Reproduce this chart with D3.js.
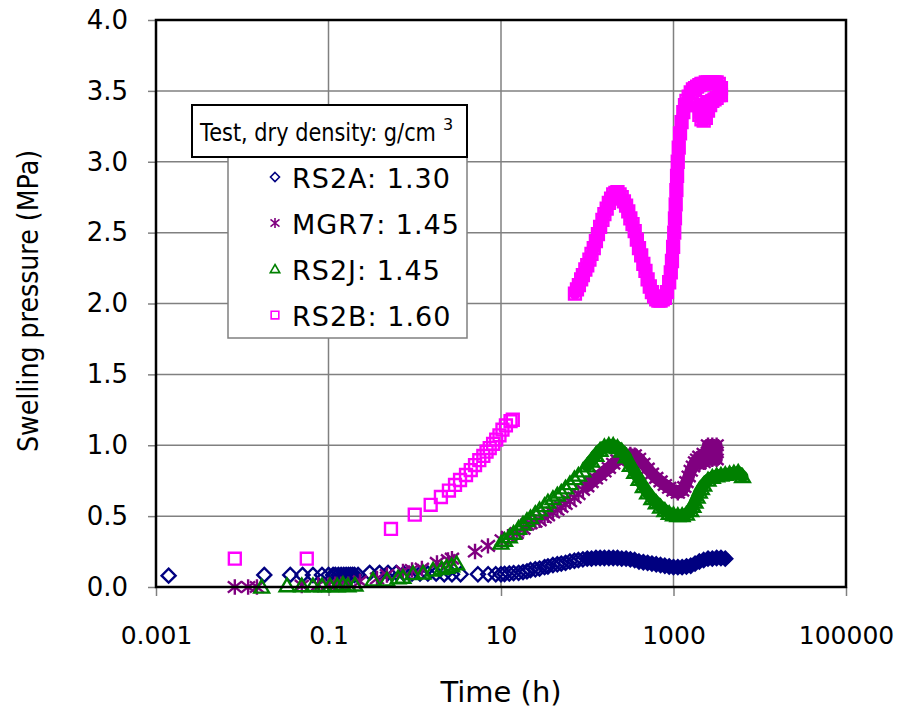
<!DOCTYPE html>
<html>
<head>
<meta charset="utf-8">
<script src="https://d3js.org/d3.v7.min.js"></script>
<style>
  body { margin: 0; background: #fff; }
  text { font-family: "DejaVu Sans", sans-serif; fill: #000; }
</style>
</head>
<body>
<svg id="chart" width="902" height="713"></svg>
<script>
// axis ticks
const xTicks = [0.001, 0.1, 10, 1000, 100000];
const xTickLabels = ["0.001", "0.1", "10", "1000", "100000"];
const yTicks = [0, 0.5, 1, 1.5, 2, 2.5, 3, 3.5, 4];

// series: [time (h), swelling pressure (MPa)]
const seriesNames = ["RS2A: 1.30", "MGR7: 1.45", "RS2J: 1.45", "RS2B: 1.60"];

const rs2a = [
  [0.0014,0.08],[0.018,0.085],[0.036,0.085],[0.05,0.085],[0.066,0.085],[0.084,0.085],
  [0.1,0.085],[0.113,0.085],[0.12,0.085],[0.13,0.085],[0.14,0.085],[0.15,0.085],
  [0.16,0.085],[0.17,0.085],[0.18,0.085],[0.19,0.085],[0.2,0.085],[0.22,0.085],
  [0.3,0.1],[0.39,0.1],[0.49,0.1],[0.61,0.1],[0.75,0.095],[0.93,0.095],[1.15,0.095],
  [1.42,0.095],[1.77,0.095],[2.2,0.09],[2.7,0.09],[3.4,0.09],[5.4,0.09],[7.1,0.09],[8.7,0.09],
  [10,0.09],[11,0.092],[12.5,0.095],[14,0.098],[16,0.1],[18,0.105],[20,0.11],[22,0.12],
  [25,0.125],[28,0.13],[32,0.14],[35,0.145],[40,0.155],[45,0.16],[50,0.165],[56,0.17],
  [63,0.18],[71,0.185],[79,0.19],[89,0.195],[100,0.2],[112,0.2],[126,0.205],[141,0.205],
  [158,0.205],[178,0.205],[200,0.205],[224,0.205],[251,0.2],[282,0.2],[316,0.195],
  [355,0.19],[398,0.18],[447,0.175],[501,0.17],[562,0.165],[631,0.16],[708,0.155],
  [794,0.15],[891,0.145],[1000,0.14],[1122,0.14],[1259,0.14],[1413,0.145],[1585,0.15],
  [1778,0.165],[1995,0.18],[2239,0.19],[2512,0.2],[2818,0.2],[3162,0.205],[3548,0.205],[3981,0.2]
];

const mgr7 = [
  [0.0082,0],[0.0117,0],[0.0148,0],[0.049,0.01],[0.076,0.015],[0.1,0.015],[0.12,0.02],
  [0.14,0.02],[0.17,0.02],[0.232,0.04],[0.365,0.06],[0.476,0.085],[0.73,0.11],[0.93,0.12],
  [1.21,0.13],[1.81,0.17],[2.43,0.19],[2.7,0.2],[5.0,0.25],[7.06,0.29],[10.2,0.33],
  [12.05,0.355],[15.2,0.38],[18.2,0.41],
  [20,0.44],[22,0.45],[25,0.46],[28,0.47],[32,0.49],[35,0.505],[40,0.525],[45,0.545],
  [50,0.565],[56,0.585],[63,0.605],[71,0.63],[79,0.655],[89,0.685],[100,0.71],[112,0.74],
  [126,0.765],[141,0.79],[158,0.815],[178,0.84],[200,0.87],[224,0.895],[251,0.915],
  [282,0.93],[316,0.935],[355,0.93],[398,0.905],[447,0.87],[501,0.835],[562,0.8],
  [631,0.77],[708,0.745],[794,0.72],[891,0.7],[1000,0.68],[1122,0.665],[1259,0.68],
  [1335,0.705],[1413,0.74],[1500,0.78],[1585,0.82],[1680,0.85],[1778,0.88],[1880,0.9],
  [1995,0.92],[2239,0.94],[2512,0.95],[2818,0.95],[3162,0.95],
  [1995,0.87],[2239,0.88],[2512,0.9],[2818,0.9],[3162,0.9],[2512,1.0],[2818,1.0],[3162,1.0]
];

const rs2j = [
  [0.0168,0],[0.033,0.01],[0.049,0.01],[0.066,0.01],[0.084,0.01],[0.104,0.01],[0.126,0.01],
  [0.147,0.02],[0.168,0.01],[0.203,0.015],[0.328,0.05],[0.476,0.05],[0.64,0.065],[0.73,0.07],
  [0.955,0.095],[1.25,0.1],[1.63,0.12],[2.05,0.13],[2.35,0.14],[2.68,0.15],[3.06,0.165],
  [10,0.31],[11,0.33],[12.5,0.355],[14,0.38],[16,0.415],[18,0.445],[20,0.47],[22,0.49],
  [25,0.52],[28,0.545],[32,0.575],[35,0.6],[40,0.625],[45,0.65],[50,0.67],[56,0.7],
  [63,0.73],[71,0.765],[79,0.79],[89,0.82],[100,0.855],[112,0.89],[126,0.93],[141,0.965],
  [158,0.99],[178,1.0],[200,1.0],[224,0.985],[251,0.96],[282,0.92],[316,0.86],[355,0.81],
  [398,0.76],[447,0.71],[501,0.665],[562,0.625],[631,0.595],[708,0.565],[794,0.54],
  [891,0.52],[1000,0.51],[1122,0.505],[1259,0.505],[1413,0.515],[1585,0.54],[1680,0.57],
  [1778,0.6],[1880,0.635],[1995,0.67],[2110,0.695],[2239,0.72],[2512,0.755],[2818,0.775],
  [3162,0.785],[3548,0.79],[3981,0.795],[4467,0.8],[5012,0.805],[5623,0.81],[6310,0.78]
];

const rs2b = [
  [0.0082,0.2],[0.056,0.2],[0.53,0.41],[1.0,0.51],[1.53,0.58],[2.01,0.635],[2.49,0.68],
  [2.93,0.72],[3.35,0.755],[3.93,0.79],[4.46,0.825],[5.0,0.86],[5.6,0.895],[6.24,0.925],
  [6.8,0.955],[7.4,0.98],[8.1,1.01],[8.8,1.04],[9.6,1.07],[10.4,1.11],[11.4,1.14],
  [12.9,1.17],[13.7,1.18],
  [72,2.07],[76,2.1],[80,2.13],[85,2.17],[89,2.2],[95,2.24],[100,2.27],[106,2.31],
  [112,2.35],[119,2.39],[126,2.44],[133,2.49],[141,2.54],[150,2.59],[158,2.63],[168,2.67],
  [178,2.71],[189,2.74],[200,2.77],[212,2.78],[224,2.785],[237,2.77],[251,2.75],[266,2.72],
  [282,2.69],[299,2.65],[316,2.6],[335,2.56],[355,2.51],[376,2.45],[398,2.39],[422,2.34],
  [447,2.28],[473,2.23],[501,2.17],[531,2.12],[562,2.08],[596,2.05],[631,2.03],[668,2.02],
  [708,2.02],[750,2.03],[794,2.04],[841,2.08],[891,2.15],[930,2.22],[960,2.3],[990,2.4],
  [1020,2.5],[1040,2.6],[1060,2.7],[1080,2.8],[1100,2.9],[1120,3.0],[1150,3.1],[1190,3.2],
  [1240,3.28],[1300,3.35],[1360,3.4],[1413,3.43],[1500,3.46],[1585,3.49],[1680,3.51],
  [1778,3.52],[1880,3.53],[1995,3.54],[2110,3.55],[2239,3.55],[2370,3.56],[2512,3.56],
  [2660,3.56],[2818,3.56],[2990,3.56],[3162,3.56],[3350,3.55],[3548,3.52],
  [1880,3.4],[1995,3.33],[2110,3.3],[2239,3.29],[2239,3.42],[2370,3.31],[2512,3.36],
  [2660,3.4],[2818,3.43],[2990,3.44],[3162,3.45],[3350,3.47],[3548,3.47]
];

const colors = ["#000080", "#800080", "#008000", "#ff00ff"];
const shapes = ["diamond", "star", "triangle", "square"];
const allSeries = [rs2a, mgr7, rs2j, rs2b];
// from these times on the logged points sit so close that they merge into a solid band
const bandFrom = [90, 90, 90, 70];

const svg = d3.select("#chart");
const plotLeft = 156, plotRight = 846, plotTop = 20, plotBottom = 587;

const x = d3.scaleLog().domain([0.001, 100000]).range([plotLeft, plotRight]);
const y = d3.scaleLinear().domain([0, 4]).range([plotBottom, plotTop]);

function markerPath(shape, s) {
  if (shape === "diamond") return `M0,${-s}L${s},0L0,${s}L${-s},0Z`;
  if (shape === "square") { const h = s * 0.85; return `M${-h},${-h}H${h}V${h}H${-h}Z`; }
  if (shape === "triangle") return `M0,${-s}L${s * 1.05},${s * 0.8}H${-s * 1.05}Z`;
  // asterisk: X plus vertical bar
  return `M0,${-s * 1.1}V${s * 1.1}M${-s},${-s * 0.8}L${s},${s * 0.8}M${-s},${s * 0.8}L${s},${-s * 0.8}`;
}

// gridlines
svg.append("g").selectAll("line")
  .data(yTicks.filter(d => d > 0 && d < 4))
  .enter().append("line")
  .attr("x1", plotLeft).attr("x2", plotRight)
  .attr("y1", d => y(d)).attr("y2", d => y(d))
  .attr("stroke", "#808080").attr("stroke-width", 1.5);

svg.append("g").selectAll("line")
  .data(xTicks.slice(1, -1))
  .enter().append("line")
  .attr("x1", d => x(d)).attr("x2", d => x(d))
  .attr("y1", plotTop).attr("y2", plotBottom)
  .attr("stroke", "#808080").attr("stroke-width", 1.5);

// axes
const yAxis = d3.axisLeft(y).tickValues(yTicks).tickFormat(d3.format(".1f"))
  .tickSize(8).tickPadding(20);
const yG = svg.append("g").attr("transform", `translate(${plotLeft},0)`).call(yAxis);
yG.select(".domain").remove();
yG.selectAll(".tick line").attr("stroke", "#808080").attr("stroke-width", 1.5);
yG.selectAll(".tick text").style("font-size", "26px").attr("fill", "#000");

const xAxis = d3.axisBottom(x).tickValues(xTicks).tickFormat((d, i) => xTickLabels[i])
  .tickSize(9).tickPadding(30);
const xG = svg.append("g").attr("transform", `translate(0,${plotBottom})`).call(xAxis);
xG.select(".domain").remove();
xG.selectAll(".tick line").attr("stroke", "#808080").attr("stroke-width", 1.5);
xG.selectAll(".tick text").style("font-size", "25px").attr("fill", "#000");

// data: merged bands where points overlap, then the markers
allSeries.forEach((data, i) => {
  const segs = [];
  for (let k = 1; k < data.length; k++) {
    const a = data[k - 1], b = data[k];
    if (a[0] < bandFrom[i] || b[0] < bandFrom[i]) continue;
    if (Math.hypot(x(b[0]) - x(a[0]), y(b[1]) - y(a[1])) > 18) continue;
    segs.push([a, b]);
  }
  svg.append("g").selectAll("line")
    .data(segs)
    .enter().append("line")
    .attr("x1", d => x(d[0][0])).attr("y1", d => y(d[0][1]))
    .attr("x2", d => x(d[1][0])).attr("y2", d => y(d[1][1]))
    .attr("stroke", colors[i]).attr("stroke-width", 12)
    .attr("stroke-linecap", "round");

  svg.append("g").selectAll("path")
    .data(data)
    .enter().append("path")
    .attr("transform", d => `translate(${x(d[0])},${y(d[1])})`)
    .attr("d", markerPath(shapes[i], 7))
    .attr("fill", "none")
    .attr("stroke", colors[i])
    .attr("stroke-width", 2.4);
});

// plot frame
svg.append("rect")
  .attr("x", plotLeft).attr("y", plotTop)
  .attr("width", plotRight - plotLeft).attr("height", plotBottom - plotTop)
  .attr("fill", "none").attr("stroke", "#000").attr("stroke-width", 2.5);

// axis titles
svg.append("text")
  .attr("x", (plotLeft + plotRight) / 2).attr("y", 692)
  .attr("text-anchor", "middle").attr("dominant-baseline", "central")
  .style("font-size", "29px")
  .text("Time (h)");

svg.append("text")
  .attr("transform", "translate(28,301) rotate(-90)")
  .attr("text-anchor", "middle").attr("dominant-baseline", "central")
  .attr("textLength", 302).attr("lengthAdjust", "spacingAndGlyphs")
  .style("font-size", "28px")
  .text("Swelling pressure (MPa)");

// legend
const legend = svg.append("g");
legend.append("rect")
  .attr("x", 228).attr("y", 150).attr("width", 239).attr("height", 188)
  .attr("fill", "#fff").attr("stroke", "#808080").attr("stroke-width", 1.5);

seriesNames.forEach((name, i) => {
  const ly = 177 + i * 46;
  legend.append("path")
    .attr("transform", `translate(275,${ly})`)
    .attr("d", markerPath(shapes[i], 4.5))
    .attr("fill", "none").attr("stroke", colors[i]).attr("stroke-width", 1.6);
  legend.append("text")
    .attr("x", 292).attr("y", ly + 1)
    .attr("dominant-baseline", "central")
    .style("font-size", "27px")
    .style("letter-spacing", "1px")
    .text(name);
});

legend.append("rect")
  .attr("x", 192).attr("y", 105).attr("width", 275).attr("height", 52)
  .attr("fill", "#fff").attr("stroke", "#000").attr("stroke-width", 2);

legend.append("text")
  .attr("transform", "translate(200,141) scale(0.87,1)")
  .style("font-size", "24px")
  .text("Test, dry density: g/cm");
legend.append("text")
  .attr("x", 443).attr("y", 130)
  .style("font-size", "16px")
  .text("3");
</script>
</body>
</html>
